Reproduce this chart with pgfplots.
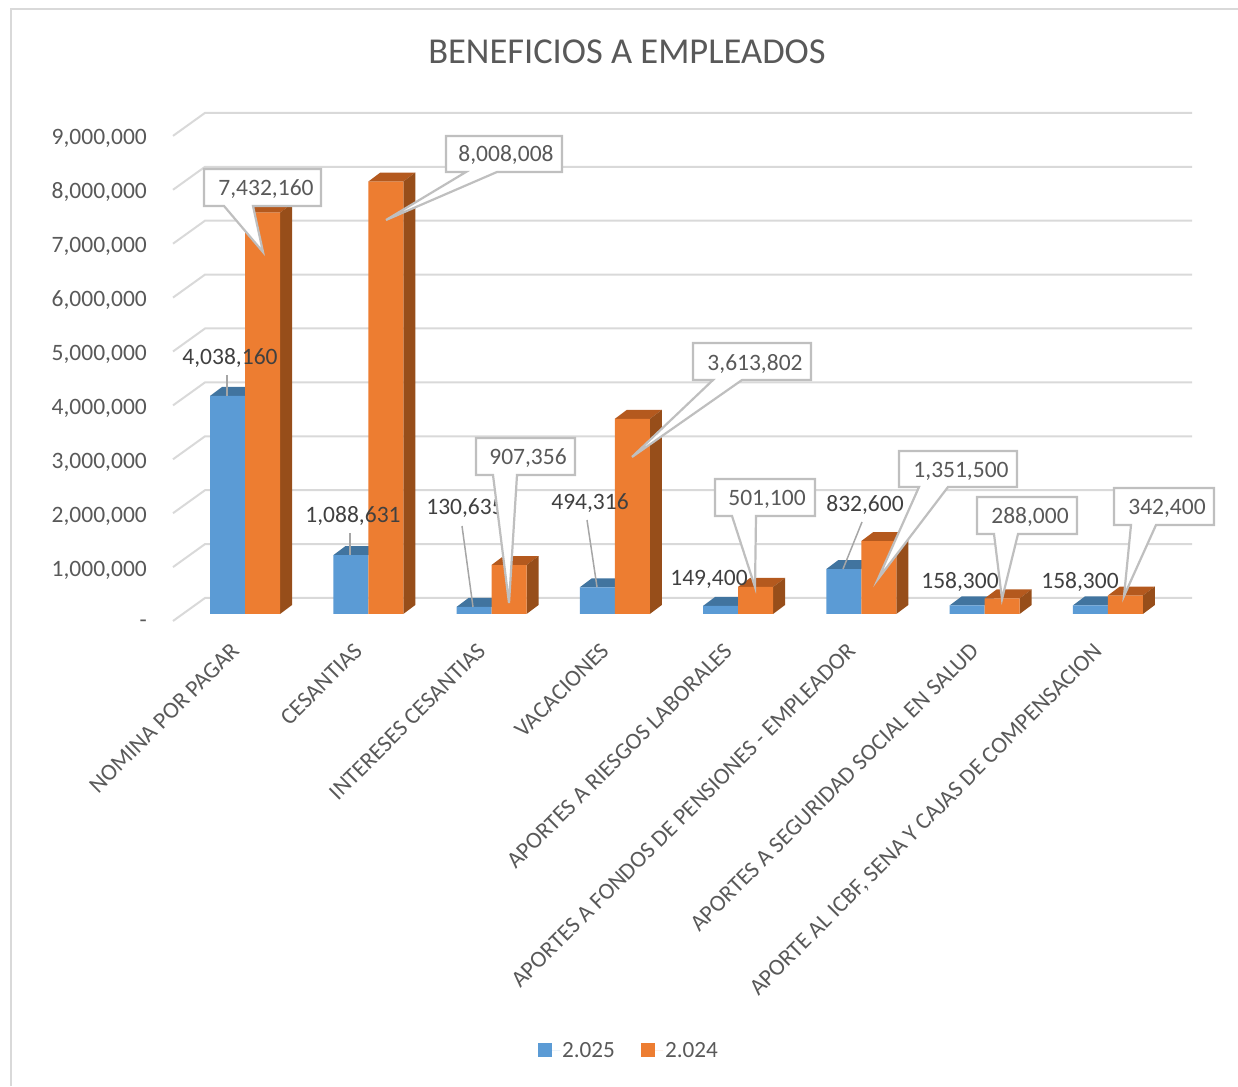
\documentclass[border=0pt]{standalone}
\usepackage{fontspec}
\setmainfont{Carlito}
\usepackage{pgfplots}
\usepackage{pgfplotstable}
\pgfplotsset{compat=1.18}
\definecolor{cblue}{HTML}{5B9BD5}
\definecolor{corange}{HTML}{ED7D31}
\definecolor{ctopb}{HTML}{41749F}
\definecolor{ctopo}{HTML}{B4591E}
\definecolor{csideo}{HTML}{974E1A}
\definecolor{cgrid}{HTML}{D9D9D9}
\definecolor{cbox}{HTML}{BFBFBF}
\definecolor{ctext}{HTML}{595959}
\definecolor{clabel}{HTML}{404040}
\pgfplotstableread{
i  y2025    y2024
0  4038160  7432160
1  1088631  8008008
2  130635   907356
3  494316   3613802
4  149400   501100
5  832600   1351500
6  158300   288000
7  158300   342400
}\datatable
\newcommand\bluefaces[2]{%
  \fill[ctopb] ([xshift=-35pt]axis cs:#1,#2) -- (axis cs:#1,#2) -- ([xshift=12pt,yshift=9pt]axis cs:#1,#2) -- ([xshift=-23pt,yshift=9pt]axis cs:#1,#2) -- cycle;}
\newcommand\orangefaces[2]{%
  \fill[ctopo] (axis cs:#1,#2) -- ([xshift=35pt]axis cs:#1,#2) -- ([xshift=47pt,yshift=9pt]axis cs:#1,#2) -- ([xshift=12pt,yshift=9pt]axis cs:#1,#2) -- cycle;
  \fill[csideo] ([xshift=35pt]axis cs:#1,#2) -- ([xshift=47pt,yshift=9pt]axis cs:#1,#2) -- ([xshift=47pt,yshift=9pt]axis cs:#1,0) -- ([xshift=35pt]axis cs:#1,0) -- cycle;}
% callout: x1 x2 y1 y2 basel baser tipx tipy
\newcommand\callout[8]{%
  \draw[cbox,line width=2.2pt,fill=white,line join=miter] (#1,#3) -- (#2,#3) -- (#2,#4) -- (#6,#4) -- (#7,#8) -- (#5,#4) -- (#1,#4) -- cycle;}
\begin{document}
\begin{tikzpicture}
\useasboundingbox (0,0) rectangle (1238pt,1086pt);
\begin{scope}[x=1pt,y=-1pt,yshift=1086pt]
  \draw[cgrid,line width=2pt] (11,1086) -- (11,9) -- (1238,9);
  \foreach \k in {0,...,9}{
    \pgfmathsetmacro\yb{598-53.9*\k}
    \pgfmathsetmacro\yf{621-53.9*\k}
    \draw[cgrid,line width=2pt] (173,\yf) -- (205,\yb) -- (1192,\yb);
  }
\end{scope}
\begin{axis}[
  at={(172pt,465pt)}, anchor=south west,
  scale only axis, width=1020pt, height=508pt,
  xmin=-0.5923, xmax=7.6836, ymin=-129630, ymax=9277778,
  clip=false,
  scaled y ticks=false,
  axis line style={draw=none},
  major tick style={draw=none},
  xtick={0,...,7},
  xticklabels={NOMINA POR PAGAR,CESANTIAS,INTERESES CESANTIAS,VACACIONES,APORTES A RIESGOS LABORALES,APORTES A FONDOS DE PENSIONES - EMPLEADOR,APORTES A SEGURIDAD SOCIAL EN SALUD,{APORTE AL ICBF, SENA Y CAJAS DE COMPENSACION}},
  xticklabel style={rotate=45,anchor=north east,inner sep=0pt,font=\fontsize{23.4}{28}\selectfont,text=ctext,yshift=-3.5pt,xshift=-25.4pt},
  ytick={0,1000000,...,9000000},
  yticklabels={{-\hspace{11pt}},{1,000,000},{2,000,000},{3,000,000},{4,000,000},{5,000,000},{6,000,000},{7,000,000},{8,000,000},{9,000,000}},
  yticklabel style={font=\fontsize{23.5}{28}\selectfont,text=ctext,anchor=east,inner sep=0pt,xshift=-25pt,yshift=-10pt},
  title={BENEFICIOS A EMPLEADOS},
  title style={at={(0.446,1.108)},anchor=center,font=\fontsize{36.5}{44}\selectfont,text=ctext},
  legend columns=2,
  legend style={draw=none,fill=none,at={(0.448,-0.845)},anchor=center,font=\fontsize{23.2}{28}\selectfont,text=ctext,/tikz/every even column/.append style={column sep=24pt}},
  legend image code/.code={\fill[#1] (0pt,-7pt) rectangle (14pt,7pt);\path (0pt,0pt) -- (22pt,0pt);},
]
\bluefaces{0}{4038160}
\bluefaces{1}{1088631}
\bluefaces{2}{130635}
\bluefaces{3}{494316}
\bluefaces{4}{149400}
\bluefaces{5}{832600}
\bluefaces{6}{158300}
\bluefaces{7}{158300}
\addplot[ybar,bar shift=-17.5pt,bar width=35pt,fill=cblue,draw=none] table[x=i,y=y2025] {\datatable};
\addlegendentry{2.025}
\orangefaces{0}{7432160}
\orangefaces{1}{8008008}
\orangefaces{2}{907356}
\orangefaces{3}{3613802}
\orangefaces{4}{501100}
\orangefaces{5}{1351500}
\orangefaces{6}{288000}
\orangefaces{7}{342400}
\addplot[ybar,bar shift=17.5pt,bar width=35pt,fill=corange,draw=none] table[x=i,y=y2024] {\datatable};
\addlegendentry{2.024}
\end{axis}
\begin{scope}[x=1pt,y=-1pt,yshift=1086pt,every node/.style={font=\fontsize{23.5}{28}\selectfont,inner sep=0pt,anchor=center}]
  % leader lines and plain labels
  \draw[gray!70,line width=1.5pt] (227,375) -- (227,396);
  \draw[gray!70,line width=1.5pt] (350,533) -- (350,555);
  \draw[gray!70,line width=1.5pt] (462,526) -- (473,607);
  \draw[gray!70,line width=1.5pt] (587,520) -- (597,587);
  \draw[gray!70,line width=1.5pt] (862,522) -- (843,569);
  \node[text=clabel] at (230,358) {4,038,160};
  \node[text=clabel] at (353,516) {1,088,631};
  \node[text=clabel] at (465,508) {130,635};
  \node[text=clabel] at (590,503) {494,316};
  \node[text=clabel] at (709,579) {149,400};
  \node[text=clabel] at (865,505) {832,600};
  \node[text=clabel] at (960,582) {158,300};
  \node[text=clabel] at (1080,582) {158,300};
  % callouts
  \callout{204}{321}{169}{206}{224}{253}{263}{252}
  \node[text=ctext] at (266,189) {7,432,160};
  \callout{446}{562}{136}{172}{466}{497}{386}{220}
  \node[text=ctext] at (506,155) {8,008,008};
  \callout{476}{575}{438}{475}{493}{517}{509}{603}
  \node[text=ctext] at (528,458) {907,356};
  \callout{693}{811}{343}{380}{713}{742}{632}{457}
  \node[text=ctext] at (755,364) {3,613,802};
  \callout{715}{815}{479}{516}{732}{756}{755}{587}
  \node[text=ctext] at (767,499) {501,100};
  \callout{899}{1017}{451}{487}{919}{948}{878}{579}
  \node[text=ctext] at (961,471) {1,351,500};
  \callout{977}{1077}{497}{534}{994}{1018}{1002}{599}
  \node[text=ctext] at (1030,517) {288,000};
  \callout{1114}{1214}{488}{525}{1131}{1156}{1124}{596}
  \node[text=ctext] at (1167,508) {342,400};
\end{scope}
\end{tikzpicture}
\end{document}
